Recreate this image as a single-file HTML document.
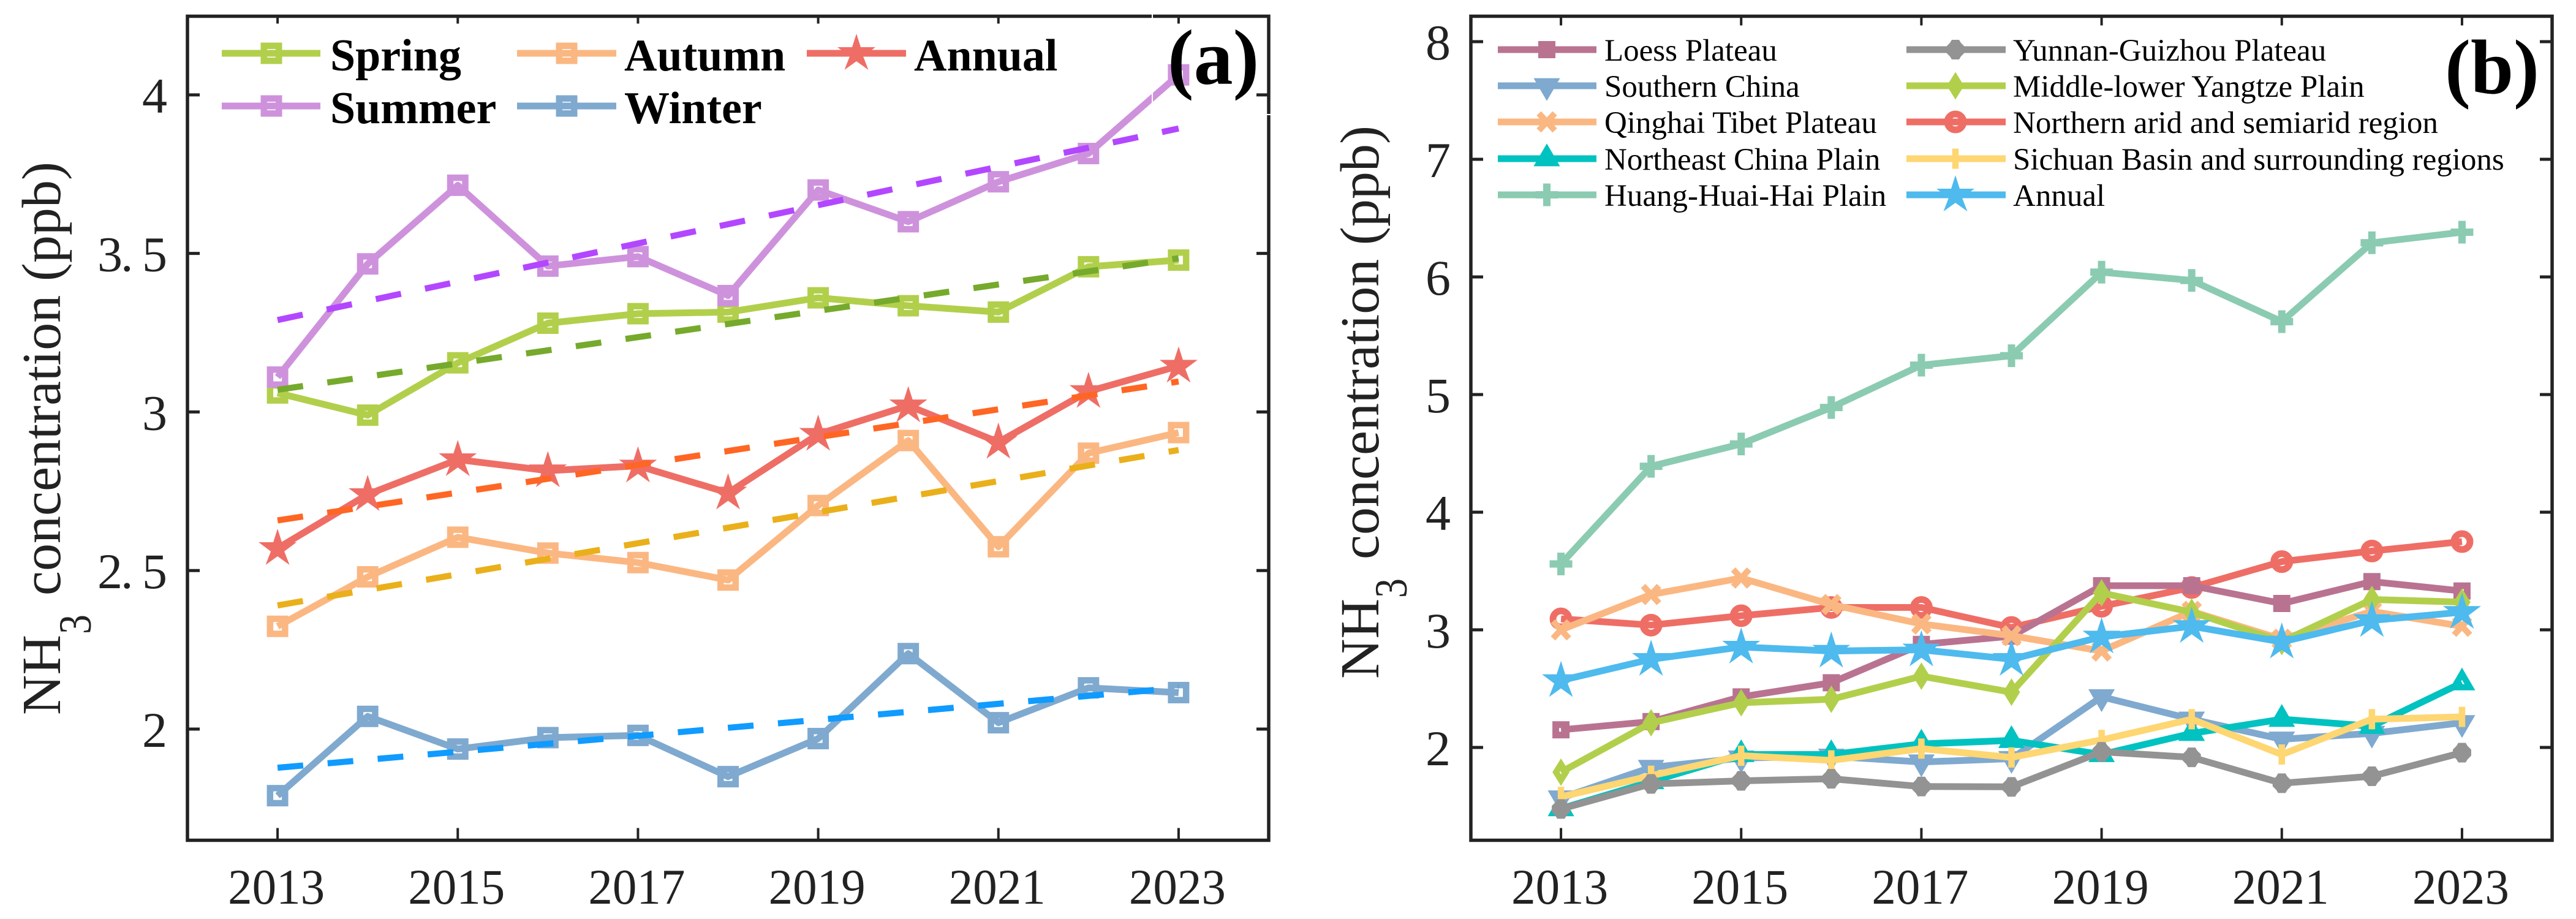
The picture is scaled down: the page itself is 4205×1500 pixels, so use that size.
<!DOCTYPE html>
<html lang="en">
<head>
<meta charset="utf-8">
<title>NH3 concentration trends</title>
<style>
html,body{margin:0;padding:0;background:#fff;}
svg{display:block;}
text{font-family:"Liberation Serif",serif;}
.ttl{font-size:90px;fill:#222;}
.lega{font-size:74px;font-weight:bold;fill:#000;}
.legb{font-size:51px;fill:#000;}
.panel{font-size:128px;font-weight:bold;fill:#000;}
.tick{font-size:82px;fill:#222;}
</style>
</head>
<body>
<svg id="chart" xmlns="http://www.w3.org/2000/svg" width="4205" height="1500" viewBox="0 0 4205 1500">
  <rect x="0" y="0" width="4205" height="1500" fill="#ffffff"/>
  <g id="panelA"></g>
  <g id="panelB"></g>

  <g>
    <text class="ttl" transform="translate(98 1167) rotate(-90)" textLength="131" lengthAdjust="spacingAndGlyphs">NH</text>
    <text class="ttl" style="font-size:75px" transform="translate(148 1035) rotate(-90)" textLength="32" lengthAdjust="spacingAndGlyphs">3</text>
    <text class="ttl" transform="translate(98 972) rotate(-90)" textLength="708" lengthAdjust="spacing">concentration (ppb)</text>
  </g>
  <g>
    <text class="ttl" transform="translate(2250 1108) rotate(-90)" textLength="131" lengthAdjust="spacingAndGlyphs">NH</text>
    <text class="ttl" style="font-size:75px" transform="translate(2296 976) rotate(-90)" textLength="32" lengthAdjust="spacingAndGlyphs">3</text>
    <text class="ttl" transform="translate(2250 913) rotate(-90)" textLength="708" lengthAdjust="spacing">concentration (ppb)</text>
  </g>

  <g>
    <text class="lega" x="539" y="115">Spring</text>
    <text class="lega" x="539" y="201">Summer</text>
    <text class="lega" x="1019" y="115">Autumn</text>
    <text class="lega" x="1019" y="201">Winter</text>
    <text class="lega" x="1492" y="115">Annual</text>
  </g>
  <g>
    <text class="legb" x="2619" y="99">Loess Plateau</text>
    <text class="legb" x="2619" y="158">Southern China</text>
    <text class="legb" x="2619" y="217">Qinghai Tibet Plateau</text>
    <text class="legb" x="2619" y="277">Northeast China Plain</text>
    <text class="legb" x="2619" y="336">Huang-Huai-Hai Plain</text>
    <text class="legb" x="3286" y="99">Yunnan-Guizhou Plateau</text>
    <text class="legb" x="3286" y="158">Middle-lower Yangtze Plain</text>
    <text class="legb" x="3286" y="217">Northern arid and semiarid region</text>
    <text class="legb" x="3286" y="277">Sichuan Basin and surrounding regions</text>
    <text class="legb" x="3286" y="336">Annual</text>
  </g>

  <path d="M1881 20V187H2080" fill="none" stroke="#ffffff" stroke-width="2"/>
  <text class="panel" x="1906" y="137">(a)</text>
  <text class="panel" style="font-size:126px" x="3991" y="152">(b)</text>
</svg>

<script>
// ---- shared categories ----
const years = [2013, 2014, 2015, 2016, 2017, 2018, 2019, 2020, 2021, 2022, 2023];
const xTickYears = [2013, 2015, 2017, 2019, 2021, 2023];
const xTickLabels = ['2013', '2015', '2017', '2019', '2021', '2023'];
const xDomain = [2012, 2024];

// ---- panel (a) values ----
const springValues = [3.06, 2.99, 3.155, 3.28, 3.31, 3.315, 3.36, 3.335, 3.315, 3.458, 3.479];
const summerValues = [3.11, 3.467, 3.715, 3.46, 3.49, 3.367, 3.70, 3.60, 3.726, 3.815, 4.063];
const autumnValues = [2.324, 2.48, 2.605, 2.555, 2.525, 2.47, 2.705, 2.91, 2.575, 2.87, 2.935];
const winterValues = [1.79, 2.04, 1.937, 1.973, 1.98, 1.85, 1.97, 2.238, 2.02, 2.13, 2.115];
const annualValues = [2.57, 2.74, 2.85, 2.815, 2.83, 2.745, 2.93, 3.02, 2.905, 3.065, 3.145];
const trendYears = [2013, 2023];
const springTrend = [3.07, 3.485];
const summerTrend = [3.29, 3.894];
const autumnTrend = [2.39, 2.88];
const winterTrend = [1.878, 2.13];
const annualTrend = [2.658, 3.096];
const yTicksA = [2, 2.5, 3, 3.5, 4];
const yTickLabelsA = ['2', '2. 5', '3', '3. 5', '4'];
const yDomainA = [1.6493, 4.248];

// ---- panel (b) values ----
const loessValues = [2.15, 2.22, 2.43, 2.55, 2.876, 2.946, 3.375, 3.375, 3.224, 3.41, 3.33];
const southernValues = [1.57, 1.83, 1.91, 1.925, 1.876, 1.905, 2.43, 2.24, 2.07, 2.12, 2.21];
const qinghaiValues = [3.0, 3.30, 3.44, 3.215, 3.05, 2.95, 2.82, 3.157, 2.92, 3.157, 3.03];
const northeastValues = [1.48, 1.71, 1.94, 1.94, 2.03, 2.06, 1.94, 2.12, 2.24, 2.18, 2.55];
const huangValues = [3.56, 4.39, 4.58, 4.89, 5.25, 5.33, 6.04, 5.97, 5.62, 6.29, 6.38];
const yunnanValues = [1.477, 1.69, 1.716, 1.734, 1.668, 1.665, 1.963, 1.916, 1.696, 1.755, 1.956];
const yangtzeValues = [1.79, 2.21, 2.38, 2.41, 2.606, 2.47, 3.314, 3.15, 2.90, 3.258, 3.236];
const northernValues = [3.093, 3.04, 3.12, 3.19, 3.19, 3.02, 3.2, 3.36, 3.58, 3.67, 3.75];
const sichuanValues = [1.58, 1.76, 1.93, 1.89, 1.99, 1.915, 2.064, 2.24, 1.94, 2.24, 2.26];
const annualBValues = [2.57, 2.75, 2.854, 2.82, 2.83, 2.75, 2.94, 3.03, 2.897, 3.08, 3.15];
const yTicksB = [2, 3, 4, 5, 6, 7, 8];
const yTickLabelsB = ['2', '3', '4', '5', '6', '7', '8'];
const yDomainB = [1.211, 8.216];

// ---- layout ----
const NS = 'http://www.w3.org/2000/svg';
const plotTop = 26.5, plotBottom = 1371.5;
const plotA = { left: 306, right: 2071 };
const plotB = { left: 2401, right: 4166 };
const axisColor = '#222222';

const xScale = (plot, year) => plot.left + (year - xDomain[0]) / (xDomain[1] - xDomain[0]) * (plot.right - plot.left);
const yScale = (domain, v) => plotBottom - (v - domain[0]) / (domain[1] - domain[0]) * (plotBottom - plotTop);

function make(parent, tag, attrs) {
  const el = document.createElementNS(NS, tag);
  for (const k in attrs) el.setAttribute(k, attrs[k]);
  parent.appendChild(el);
  return el;
}

const starShape = '0,-32 7,-10 31,-10 11,5 19.5,27 0,13 -19.5,27 -11,5 -31,-10 -7,-10';
const blobShape = '-6,-16 6,-16 9,-11 15,-5 15,5 9,11 6,16 -6,16 -9,11 -15,5 -15,-5 -9,-11';

function drawMarker(parent, type, cx, cy, color) {
  const tf = 'translate(' + cx + ' ' + cy + ')';
  const hollow = { fill: 'none', stroke: color, 'stroke-miterlimit': 20, transform: tf };
  if (type === 'squareLarge') return make(parent, 'rect', Object.assign({ x: -12.25, y: -12.25, width: 24.5, height: 24.5, 'stroke-width': 10.5 }, hollow));
  if (type === 'squareSmall') return make(parent, 'rect', Object.assign({ x: -8.5, y: -8.5, width: 17, height: 17, 'stroke-width': 11 }, hollow));
  if (type === 'triUp') return make(parent, 'polygon', Object.assign({ points: '0,-14.8 12.9,7.4 -12.9,7.4', 'stroke-width': 10 }, hollow));
  if (type === 'triDown') return make(parent, 'polygon', Object.assign({ points: '0,14.8 12.9,-7.4 -12.9,-7.4', 'stroke-width': 10 }, hollow));
  if (type === 'diamond') return make(parent, 'polygon', Object.assign({ points: '0,-13 8.1,0 0,13 -8.1,0', 'stroke-width': 10 }, hollow));
  if (type === 'circle') return make(parent, 'circle', Object.assign({ cx: 0, cy: 0, r: 13, 'stroke-width': 11 }, hollow));
  if (type === 'cross') return make(parent, 'path', Object.assign({ d: 'M-13 -14L13 14M-13 14L13 -14', 'stroke-width': 10 }, hollow));
  if (type === 'plusLarge') return make(parent, 'path', Object.assign({ d: 'M0 -18.5V18.5M-18.5 0H18.5', 'stroke-width': 12 }, hollow));
  if (type === 'plusSmall') return make(parent, 'path', Object.assign({ d: 'M0 -16.5V16.5', 'stroke-width': 10.5 }, hollow));
  if (type === 'star') return make(parent, 'polygon', { points: starShape, fill: color, transform: tf });
  return make(parent, 'polygon', { points: blobShape, fill: color, transform: tf });
}

function drawSeries(parent, plot, domain, values, color, marker, name) {
  const g = make(parent, 'g', {});
  
  
  const pts = values.map((v, i) => xScale(plot, years[i]).toFixed(1) + ',' + yScale(domain, v).toFixed(1)).join(' ');
  const line = make(g, 'polyline', { points: pts, fill: 'none', stroke: color, 'stroke-width': 11, 'stroke-linejoin': 'round' });
  
  
  values.forEach((v, i) => {
    const m = drawMarker(g, marker, xScale(plot, years[i]), yScale(domain, v), color);
    
    
  });
}

function drawTrend(parent, plot, domain, values, color, name) {
  const l = make(parent, 'line', {
    x1: xScale(plot, trendYears[0]), y1: yScale(domain, values[0]),
    x2: xScale(plot, trendYears[1]), y2: yScale(domain, values[1]),
    stroke: color, 'stroke-width': 10, 'stroke-dasharray': '42 40', fill: 'none'
  });
  
  
}

function drawAxes(parent, plot, domain, yTicks, yLabels, topTickLen, prefix) {
  const box = make(parent, 'rect', {
    x: plot.left, y: plotTop, width: plot.right - plot.left, height: plotBottom - plotTop,
    fill: 'none', stroke: axisColor, 'stroke-width': 5.5
  });
  
  
  xTickYears.forEach((yr, i) => {
    const x = xScale(plot, yr);
    const b = make(parent, 'line', { x1: x, x2: x, y1: plotBottom, y2: plotBottom - 20, stroke: axisColor, 'stroke-width': 4 });
    
    
    const t = make(parent, 'line', { x1: x, x2: x, y1: plotTop, y2: plotTop + topTickLen, stroke: axisColor, 'stroke-width': 4 });
    
    
    const lab = make(parent, 'text', { x: x - 2, y: 1475, 'text-anchor': 'middle', 'class': 'tick', textLength: 158, lengthAdjust: 'spacingAndGlyphs' });
    lab.textContent = xTickLabels[i];
    
    
  });
  yTicks.forEach((v, i) => {
    const y = yScale(domain, v);
    const l = make(parent, 'line', { x1: plot.left, x2: plot.left + 20, y1: y, y2: y, stroke: axisColor, 'stroke-width': 5 });
    
    
    const r = make(parent, 'line', { x1: plot.right, x2: plot.right - 20, y1: y, y2: y, stroke: axisColor, 'stroke-width': 5 });
    
    
    const lab = make(parent, 'text', { x: plot.left - 33, y: y + 29, 'text-anchor': 'end', 'class': 'tick' });
    lab.textContent = yLabels[i];
    if (yLabels[i].length > 1) lab.setAttribute('textLength', 114);
    
    
  });
}

function legendSample(parent, x1, x2, mx, y, color, marker, name) {
  const g = make(parent, 'g', {});
  
  
  make(g, 'line', { x1: x1, x2: x2, y1: y, y2: y, stroke: color, 'stroke-width': 11 });
  drawMarker(g, marker, mx, y, color);
}

// ---- colours ----
const cSpring = '#b2cf4c', cSummer = '#ce92dc', cAutumn = '#fbb782', cWinter = '#7fa9cf', cAnnual = '#ee6e66';
const cLoess = '#b97391', cSouthern = '#7fa9cf', cQinghai = '#fbb782', cNortheast = '#00c2c0', cHuang = '#8bcbb2';
const cYunnan = '#939393', cYangtze = '#b2cf4c', cNorthern = '#ee6e66', cSichuan = '#fed672', cAnnualB = '#4ebaee';

// ---- panel (a) ----
const pa = document.getElementById('panelA');
drawSeries(pa, plotA, yDomainA, springValues, cSpring, 'squareLarge', 'spring');
drawSeries(pa, plotA, yDomainA, summerValues, cSummer, 'squareLarge', 'summer');
drawSeries(pa, plotA, yDomainA, autumnValues, cAutumn, 'squareLarge', 'autumn');
drawSeries(pa, plotA, yDomainA, winterValues, cWinter, 'squareLarge', 'winter');
drawSeries(pa, plotA, yDomainA, annualValues, cAnnual, 'star', 'annual');
drawTrend(pa, plotA, yDomainA, springTrend, '#76aa2c', 'spring');
drawTrend(pa, plotA, yDomainA, summerTrend, '#b347ff', 'summer');
drawTrend(pa, plotA, yDomainA, autumnTrend, '#eab01b', 'autumn');
drawTrend(pa, plotA, yDomainA, winterTrend, '#0f9bff', 'winter');
drawTrend(pa, plotA, yDomainA, annualTrend, '#ff6624', 'annual');
drawAxes(pa, plotA, yDomainA, yTicksA, yTickLabelsA, 12, 'panel-a');
legendSample(pa, 362, 523, 443, 87, cSpring, 'squareLarge', 'spring');
legendSample(pa, 362, 523, 443, 173, cSummer, 'squareLarge', 'summer');
legendSample(pa, 844, 1006, 925, 87, cAutumn, 'squareLarge', 'autumn');
legendSample(pa, 844, 1006, 925, 173, cWinter, 'squareLarge', 'winter');
legendSample(pa, 1317, 1479, 1398, 87, cAnnual, 'star', 'annual');

// ---- panel (b) ----
const pb = document.getElementById('panelB');
drawSeries(pb, plotB, yDomainB, northernValues, cNorthern, 'circle', 'northern-arid');
drawSeries(pb, plotB, yDomainB, loessValues, cLoess, 'squareSmall', 'loess-plateau');
drawSeries(pb, plotB, yDomainB, southernValues, cSouthern, 'triDown', 'southern-china');
drawSeries(pb, plotB, yDomainB, qinghaiValues, cQinghai, 'cross', 'qinghai-tibet');
drawSeries(pb, plotB, yDomainB, northeastValues, cNortheast, 'triUp', 'northeast-china');
drawSeries(pb, plotB, yDomainB, huangValues, cHuang, 'plusLarge', 'huang-huai-hai');
drawSeries(pb, plotB, yDomainB, sichuanValues, cSichuan, 'plusSmall', 'sichuan-basin');
drawSeries(pb, plotB, yDomainB, yunnanValues, cYunnan, 'blob', 'yunnan-guizhou');
drawSeries(pb, plotB, yDomainB, yangtzeValues, cYangtze, 'diamond', 'yangtze-plain');
drawSeries(pb, plotB, yDomainB, annualBValues, cAnnualB, 'star', 'annual-b');
drawAxes(pb, plotB, yDomainB, yTicksB, yTickLabelsB, 15, 'panel-b');
legendSample(pb, 2445, 2606, 2525, 81, cLoess, 'squareSmall', 'loess-plateau');
legendSample(pb, 2445, 2606, 2525, 140, cSouthern, 'triDown', 'southern-china');
legendSample(pb, 2445, 2606, 2525, 199, cQinghai, 'cross', 'qinghai-tibet');
legendSample(pb, 2445, 2606, 2525, 259, cNortheast, 'triUp', 'northeast-china');
legendSample(pb, 2445, 2606, 2525, 318, cHuang, 'plusLarge', 'huang-huai-hai');
legendSample(pb, 3112, 3274, 3192, 81, cYunnan, 'blob', 'yunnan-guizhou');
legendSample(pb, 3112, 3274, 3192, 140, cYangtze, 'diamond', 'yangtze-plain');
legendSample(pb, 3112, 3274, 3192, 199, cNorthern, 'circle', 'northern-arid');
legendSample(pb, 3112, 3274, 3192, 259, cSichuan, 'plusSmall', 'sichuan-basin');
legendSample(pb, 3112, 3274, 3192, 318, cAnnualB, 'star', 'annual-b');
</script>
</body>
</html>
